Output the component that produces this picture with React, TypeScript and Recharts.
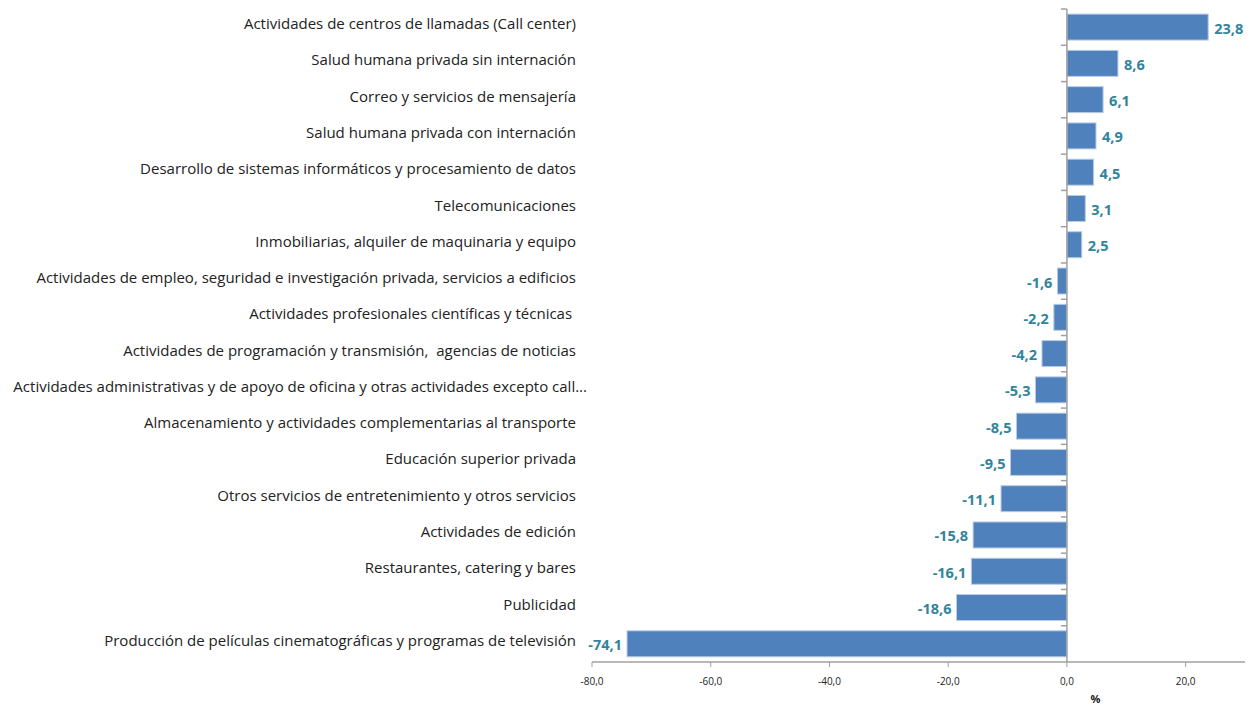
import React from 'react';
import { BarChart, Bar, XAxis, YAxis, ReferenceLine, LabelList } from 'recharts';

const categories: string[] = [
  'Actividades de centros de llamadas (Call center)',
  'Salud humana privada sin internación',
  'Correo y servicios de mensajería',
  'Salud humana privada con internación',
  'Desarrollo de sistemas informáticos y procesamiento de datos',
  'Telecomunicaciones',
  'Inmobiliarias, alquiler de maquinaria y equipo',
  'Actividades de empleo, seguridad e investigación privada, servicios a edificios',
  'Actividades profesionales científicas y técnicas ',
  'Actividades de programación y transmisión,  agencias de noticias',
  'Actividades administrativas y de apoyo de oficina y otras actividades excepto call...',
  'Almacenamiento y actividades complementarias al transporte',
  'Educación superior privada',
  'Otros servicios de entretenimiento y otros servicios',
  'Actividades de edición',
  'Restaurantes, catering y bares',
  'Publicidad',
  'Producción de películas cinematográficas y programas de televisión',
];

const values: number[] = [23.8, 8.6, 6.1, 4.9, 4.5, 3.1, 2.5, -1.6, -2.2, -4.2, -5.3, -8.5, -9.5, -11.1, -15.8, -16.1, -18.6, -74.1];

const xTicks: number[] = [-80, -60, -40, -20, 0, 20];

const data = categories.map((name, i) => ({ name, value: values[i] }));

const fmt = (v: number) => v.toFixed(1).replace('.', ',');

const GAP = 0.14;
const FONT = "'Open Sans', sans-serif";

const BarShape = (props: any) => {
  const { x, y, width, height } = props;
  const v = props.payload?.value ?? 0;
  const left = Math.min(x, x + width);
  const right = Math.max(x, x + width);
  const w = right - left;
  const zero = v < 0 ? right : left;
  const band = height / (1 - 2 * GAP);
  const top = y - band * GAP;
  return (
    <g>
      <rect x={left} y={y} width={w} height={height} fill="#4F81BD" stroke="#B9CDE5" strokeWidth={1} />
      <line x1={zero - 6} x2={zero} y1={top} y2={top} stroke="#A0A0A0" strokeWidth={1.5} />
    </g>
  );
};

const ValueLabel = (props: any) => {
  const { x, y, width, height, value } = props;
  const left = Math.min(x, x + width);
  const right = Math.max(x, x + width);
  const neg = value < 0;
  return (
    <text
      x={neg ? left - 5 : right + 6}
      y={y + height / 2 + 1}
      textAnchor={neg ? 'end' : 'start'}
      dominantBaseline="central"
      fill="#31849B"
      fontFamily={FONT}
      fontWeight={700}
      fontSize={14.5}
    >
      {fmt(value)}
    </text>
  );
};

const CatTick = (props: any) => {
  const { x, y, payload } = props;
  const label: string = payload.value;
  const extra = label.endsWith('...') ? 11 : 0;
  return (
    <text
      x={x + extra}
      y={y - 4}
      textAnchor="end"
      dominantBaseline="central"
      fill="#222"
      fontFamily={FONT}
      fontSize={15}
      style={{ whiteSpace: 'pre' }}
    >
      {label}
    </text>
  );
};

export default function App() {
  return (
    <div style={{ position: 'absolute', left: 0, top: 0, background: '#fff' }}>
      <BarChart
        width={1252}
        height={705}
        data={data}
        layout="vertical"
        margin={{ top: 9, right: 7, bottom: 0, left: 0 }}
        barCategoryGap={`${GAP * 100}%`}
      >
        <XAxis
          type="number"
          domain={[-80, 30]}
          ticks={xTicks}
          allowDataOverflow
          tickFormatter={fmt}
          tick={{ fontSize: 10, fill: '#222', fontFamily: FONT }}
          axisLine={{ stroke: '#A0A0A0', strokeWidth: 1.5 }}
          tickLine={{ stroke: '#A0A0A0' }}
          tickSize={5}
          tickMargin={11}
          height={43}
          label={{ value: '%', position: 'insideBottom', dx: 177, offset: 2, fontSize: 11, fontWeight: 700, fill: '#222', fontFamily: FONT }}
        />
        <YAxis
          type="category"
          dataKey="name"
          width={592}
          axisLine={false}
          tickLine={false}
          tickSize={0}
          tickMargin={16}
          interval={0}
          tick={<CatTick />}
        />
        <ReferenceLine x={0} stroke="#A0A0A0" strokeWidth={1.5} />
        <Bar dataKey="value" isAnimationActive={false} shape={<BarShape />}>
          <LabelList dataKey="value" content={<ValueLabel />} />
        </Bar>
      </BarChart>
    </div>
  );
}
